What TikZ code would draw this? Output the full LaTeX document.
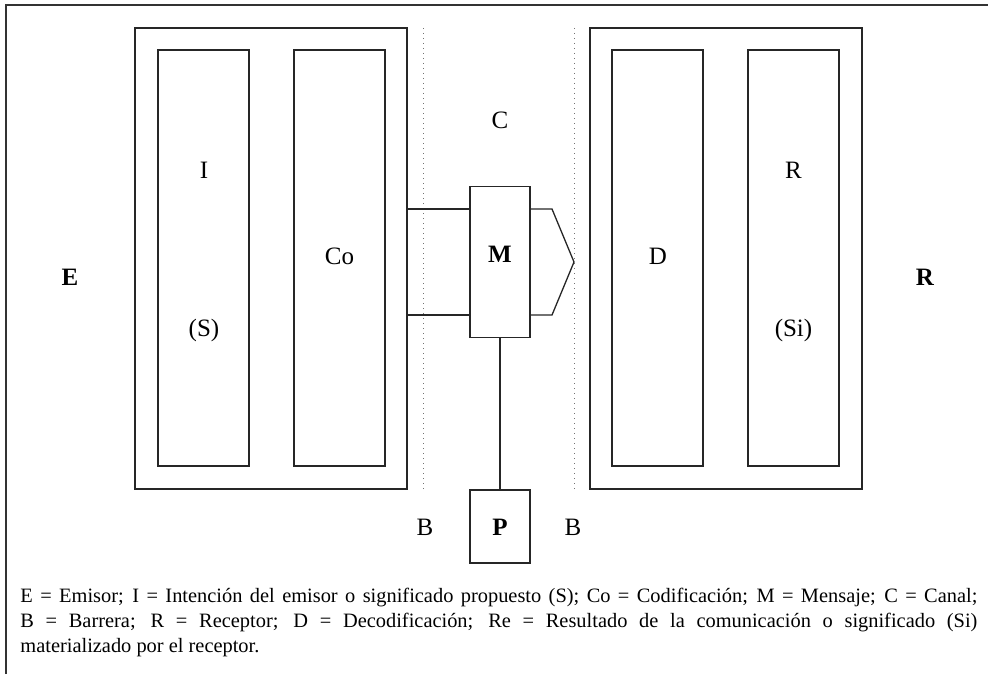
\documentclass[tikz,border=0pt]{standalone}
\usepackage{fontspec}
\setmainfont{Liberation Serif}
\begin{document}
\begin{tikzpicture}[x=0.5pt,y=-0.5pt,
  line/.style={draw=black!85, line width=0.65pt},
  outerbox/.style={line, rectangle, inner sep=0pt, outer sep=0pt, minimum width=136pt, minimum height=230.5pt},
  innerbox/.style={line, rectangle, inner sep=0pt, outer sep=0pt, minimum width=45.5pt, minimum height=208pt},
  smallbox/.style={line, rectangle, inner sep=0pt, outer sep=0pt, minimum width=30pt},
  lbl/.style={inner sep=0pt, font=\fontsize{12.5}{14}\selectfont},
  blbl/.style={inner sep=0pt, font=\fontsize{12.5}{14}\selectfont\bfseries},
  barrier/.style={draw=black!55, dotted, line width=0.5pt}]
\useasboundingbox (0,0) rectangle (988,674);

% page frame (top and left rules only)
\draw[line width=0.75pt, black!80] (6,674) -- (6,5) -- (988,5);

% sender block
\node[outerbox] (Eo) at (271,258.5) {};
\node[innerbox] (Ib) at (203.5,258) {};
\node[innerbox] (Cob) at (339.5,258) {};

% receiver block
\node[outerbox] (Ro) at (726,258.5) {};
\node[innerbox] (Db) at (657.5,258) {};
\node[innerbox] (Rb) at (793.5,258) {};

% barriers
\draw[barrier] (423,28) -- (423,489);
\draw[barrier] (574,28) -- (574,489);

% message and its source
\node[smallbox, minimum height=75.5pt] (M) at (500,262) {};
\node[smallbox, minimum height=36.5pt] (P) at (500,526.5) {};

\coordinate (hi) at (0,209);
\coordinate (lo) at (0,315);
\coordinate (tip) at (574,262);

% channel lines
\draw[line] (Eo.east |- hi) -- (M.west |- hi);
\draw[line] (Eo.east |- lo) -- (M.west |- lo);
\draw[line] (M.east |- hi) -- (552,209) -- (tip) -- (552,315) -- (M.east |- lo);
\draw[line] (M.south) -- (P.north);

% labels
\node[lbl] (lC) at (500,120) {C};
\node[lbl] (lI) at (204,170) {I};
\node[lbl] (lS) at (204,330) {(S)};
\node[lbl] (lCo) at (339.5,256) {Co};
\node[blbl] (lM) at (500,254) {M};
\node[lbl] (lD) at (658,256) {D};
\node[lbl] (lR) at (793.5,170) {R};
\node[lbl] (lSi) at (793.5,330) {(Si)};
\node[blbl] (lE) at (70,277) {E};
\node[blbl] (lRR) at (925,277) {R};
\node[lbl] (lB1) at (425,527) {B};
\node[blbl] (lP) at (500,527) {P};
\node[lbl] (lB2) at (573,527) {B};

% legend
\node[anchor=base west, inner sep=0pt, text width=478.5pt, align=justify,
      font=\fontsize{10.2}{12.5}\selectfont] (legend) at (20,602)
 {E = Emisor; I = Intención del emisor o significado propuesto (S); Co = Codificación; M = Mensaje; C = Canal;\linebreak
  B = Barrera; R = Receptor; D = Decodificación; Re = Resultado de la comunicación o significado (Si)\linebreak
  materializado por el receptor.\par};
\end{tikzpicture}
\end{document}
